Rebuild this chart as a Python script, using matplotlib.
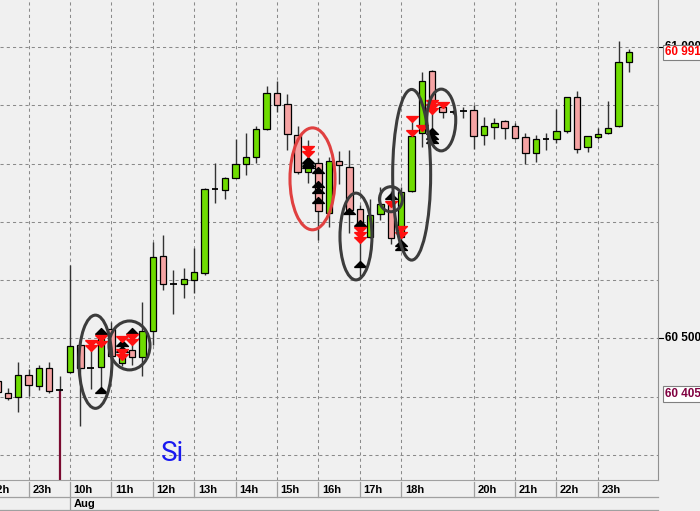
import matplotlib
matplotlib.use('Agg')
import matplotlib.pyplot as plt
import numpy as np
from matplotlib.patches import Ellipse
from matplotlib.path import Path

# ---------------- data (15-minute candles, index 0..61) ----------------
opens  = [60427, 60406, 60400, 60438, 60419, 60450, 60412, 60442, 60489, 60450,
          60451, 60516, 60457, 60480, 60469, 60513, 60641, 60594, 60593, 60601,
          60613, 60756, 60755, 60776, 60800, 60812, 60859, 60922, 60902, 60850,
          60786, 60802, 60715, 60805, 60795, 60722, 60675, 60713, 60731, 60675,
          60753, 60852, 60959, 60898, 60888, 60891, 60892, 60849, 60863, 60874,
          60864, 60845, 60819, 60842, 60842, 60856, 60914, 60828, 60845, 60853,
          60865, 60974]
highs  = [60432, 60415, 60460, 60448, 60454, 60460, 60436, 60626, 60490, 60492,
          60516, 60528, 60501, 60506, 60563, 60665, 60677, 60617, 60621, 60655,
          60759, 60802, 60778, 60842, 60852, 60864, 60933, 60942, 60919, 60864,
          60840, 60809, 60812, 60822, 60823, 60729, 60739, 60760, 60753, 60760,
          60878, 60958, 60960, 60906, 60892, 60898, 60900, 60880, 60879, 60875,
          60870, 60853, 60850, 60853, 60894, 60915, 60925, 60848, 60861, 60908,
          61010, 60997]
lows   = [60401, 60394, 60374, 60401, 60412, 60407, 60410, 60441, 60349, 60414,
          60409, 60463, 60453, 60454, 60436, 60489, 60584, 60542, 60569, 60578,
          60609, 60733, 60740, 60775, 60780, 60802, 60858, 60889, 60823, 60783,
          60767, 60669, 60692, 60765, 60681, 60604, 60672, 60703, 60662, 60669,
          60752, 60828, 60832, 60878, 60886, 60879, 60826, 60832, 60842, 60842,
          60842, 60800, 60803, 60823, 60835, 60852, 60819, 60820, 60843, 60851,
          60863, 60958]
closes = [60408, 60398, 60438, 60420, 60450, 60409, 60412, 60487, 60450, 60450,
          60504, 60470, 60472, 60469, 60512, 60639, 60593, 60594, 60602, 60614,
          60756, 60756, 60776, 60800, 60811, 60859, 60921, 60900, 60851, 60786,
          60803, 60719, 60805, 60798, 60721, 60692, 60712, 60731, 60673, 60752,
          60848, 60942, 60905, 60889, 60888, 60891, 60848, 60865, 60870, 60862,
          60844, 60819, 60842, 60842, 60856, 60914, 60826, 60848, 60851, 60861,
          60974, 60991]

hour_idx    = [-1, 3, 7, 11, 15, 19, 23, 27, 31, 35, 39, 46, 50, 54, 58]
hour_labels = ['22h', '23h', '10h', '11h', '12h', '13h', '14h', '15h', '16h',
               '17h', '18h', '20h', '21h', '22h', '23h']
day_idx, day_label = 7, 'Aug'
day_sep_idx = 6

grid_levels = [60300, 60400, 60500, 60600, 60700, 60800, 60900, 61000]
price_labels = [61000, 60500]
last_price = 60991
ref_price = 60405

up_idx   = [10, 10, 12, 12, 13, 30, 30, 30, 31, 31, 31, 31, 34, 35, 35, 38, 39, 39, 42, 42, 42]
up_price = [60513, 60412, 60492, 60482, 60512, 60807, 60802, 60797, 60789, 60765, 60755,
            60737, 60718, 60699, 60627, 60745, 60664, 60657, 60856, 60847, 60840]
dn_idx   = [9, 9, 10, 10, 12, 12, 12, 13, 13, 30, 30, 35, 35, 35, 38, 39, 39, 40, 40,
            41, 42, 42, 42, 43]
dn_price = [60493, 60484, 60500, 60490, 60499, 60477, 60468, 60502, 60494, 60825, 60816,
            60686, 60677, 60669, 60730, 60688, 60677, 60877, 60852, 60861, 60905, 60898,
            60891, 60901]

ell_idx   = [9.46, 12.75, 30.43, 34.63, 38.01, 40.01, 42.87]
ell_price = [60460, 60488, 60774, 60675, 60739, 60781, 60875]
ell_w     = [3.19, 3.96, 4.35, 3.09, 2.22, 3.67, 2.8]
ell_h     = [160, 84, 175, 149, 43, 293, 106]
ell_red   = [False, False, True, False, False, False, False]

symbol = 'Si'

# ---------------- styling ----------------
BG = '#F0F0F0'
GREEN = '#6FDC00'
PINK = '#F5A3A3'
GRID = '#8A8A8A'
FONT = 'Liberation Sans'

W, H = 700, 511
fig = plt.figure(figsize=(W / 100, H / 100), dpi=100, facecolor=BG)
ax = fig.add_axes([0, 31 / H, 658 / W, 480 / H])
ax.set_facecolor(BG)
ax.set_xlim(0.24, 63.81)
ax.set_ylim(60257, 61081)
ax.set_xticks([])
ax.set_yticks([])
for s in ['top', 'left']:
    ax.spines[s].set_visible(False)
ax.spines['right'].set_color('#909090')
ax.spines['bottom'].set_color('#A0A0A0')

# grid
for lev in grid_levels:
    ax.axhline(lev, color=GRID, lw=0.75, ls=(0, (3, 3)), zorder=0)
for hi in hour_idx:
    ax.axvline(hi, color=GRID, lw=0.75, ls=(0, (3, 3)), zorder=0)

o = np.array(opens, float); h = np.array(highs, float)
l = np.array(lows, float); c = np.array(closes, float)
x = np.arange(len(o))
bw = 0.62

# day separator
ax.vlines(day_sep_idx, 60257, l[day_sep_idx], color='#7A0A30', lw=1.6, zorder=1)

# wicks
ax.vlines(x, l, h, color='#333333', lw=1.0, zorder=2)
up = c > o
dn = c < o
dj = c == o
ax.bar(x[up], (c - o)[up], bottom=o[up], width=bw, color=GREEN, edgecolor='black',
       lw=0.9, zorder=3)
ax.bar(x[dn], (o - c)[dn], bottom=c[dn], width=bw, color=PINK, edgecolor='black',
       lw=0.9, zorder=3)
ax.hlines(o[dj], x[dj] - bw / 2, x[dj] + bw / 2, color='black', lw=1.3, zorder=3)

# signal arrows (flat triangles)
tri_up = Path([(-1, -0.5), (1, -0.5), (0, 0.5), (-1, -0.5)])
tri_dn = Path([(-1, 0.5), (1, 0.5), (0, -0.5), (-1, 0.5)])
ax.plot(up_idx, up_price, ls='none', marker=tri_up, ms=8.5, color='black', zorder=4)
ax.plot(dn_idx, dn_price, ls='none', marker=tri_dn, ms=8.5, color='#FF1010', zorder=4)

# ellipses
for xi, yi, wi, hi_, red in zip(ell_idx, ell_price, ell_w, ell_h, ell_red):
    e = Ellipse((xi, yi), wi, hi_, fill=False, lw=2.2,
                edgecolor='#E04040' if red else '#3C3C3C', zorder=5)
    ax.add_patch(e)

# symbol text
ax.text(16.95, 60290, symbol, color='#1818F0', fontsize=20, family='Roboto',
        ha='center', va='baseline', zorder=6)

# right price scale
ytr = ax.get_yaxis_transform()
for lev in price_labels:
    ax.plot([1.0, 1.007], [lev, lev], transform=ytr, color='black', lw=0.8, clip_on=False)
    ax.text(1.0105, lev, f"{lev:,}".replace(',', ' '), transform=ytr, ha='left',
            va='center', fontsize=8.5, fontweight='bold', family=FONT, clip_on=False)
ax.text(1.0105, last_price, f"{last_price:,}".replace(',', ' '), transform=ytr,
        ha='left', va='center', fontsize=8.5, fontweight='bold', family=FONT,
        color='#FF0000', clip_on=False, zorder=10,
        bbox=dict(boxstyle='square,pad=0.15', facecolor='white', edgecolor='#808080', lw=0.8))
ax.text(1.0105, ref_price, f"{ref_price:,}".replace(',', ' '), transform=ytr,
        ha='left', va='center', fontsize=8.5, fontweight='bold', family=FONT,
        color='#800040', clip_on=False, zorder=10,
        bbox=dict(boxstyle='square,pad=0.15', facecolor='white', edgecolor='#808080', lw=0.8))

# time scale
xtr = ax.get_xaxis_transform()
row1_top, row1_bot, row2_bot = -0.004, -0.0354, -0.0625
for yy in [row1_bot, row2_bot]:
    ax.plot([0, 1], [yy, yy], transform=ax.transAxes, color='#A0A0A0', lw=0.9, clip_on=False)
for hi, lab in zip(hour_idx, hour_labels):
    ax.plot([hi, hi], [row1_top, row1_bot], transform=xtr, color='#A0A0A0', lw=0.9,
            clip_on=False)
    ax.text(hi + 0.35, -0.0205, lab, transform=xtr, ha='left', va='center', fontsize=8,
            fontweight='bold', family=FONT, clip_on=False)
ax.plot([day_idx, day_idx], [row1_bot, row2_bot], transform=xtr, color='#A0A0A0', lw=0.9,
        clip_on=False)
ax.text(day_idx + 0.35, -0.049, day_label, transform=xtr, ha='left', va='center',
        fontsize=8, fontweight='bold', family=FONT, clip_on=False)

fig.savefig('out.png', dpi=100, facecolor=BG)
